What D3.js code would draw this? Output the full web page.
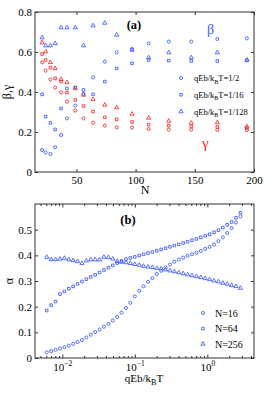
<!DOCTYPE html>
<html>
<head>
<meta charset="utf-8">
<script src="https://cdn.jsdelivr.net/npm/d3@7"></script>
<style>
  body { margin: 0; background: #fff; }
  text { font-family: "Liberation Serif", "Times New Roman", serif; fill: #000; }
</style>
</head>
<body>
<div id="chart"></div>
<script>
// ---- panel (a): beta and gamma vs N ----
const sizeN = [21, 24, 28, 32, 37, 42, 49, 56, 64, 74, 84, 97, 111, 128, 147, 169, 194];

const betaHalf    = [0.110, 0.098, 0.090, 0.124, 0.185, 0.268, 0.332, 0.390, 0.473, 0.552, 0.598, 0.615, 0.643, 0.652, 0.652, 0.665, 0.668];
const betaSixteen = [0.388, 0.277, 0.245, 0.213, 0.318, 0.418, 0.423, 0.410, 0.388, 0.452, 0.518, 0.543, 0.560, 0.557, 0.555, 0.555, 0.558];
const betaOne28   = [0.672, 0.632, 0.632, 0.643, 0.722, 0.722, 0.722, 0.632, 0.732, 0.745, 0.685, 0.610, 0.572, 0.597, 0.572, 0.597, 0.560];

const gammaHalf    = [0.548, 0.507, 0.463, 0.422, 0.398, 0.352, 0.307, 0.268, 0.247, 0.232, 0.223, 0.222, 0.215, 0.212, 0.212, 0.211, 0.210];
const gammaSixteen = [0.590, 0.560, 0.522, 0.468, 0.452, 0.397, 0.360, 0.330, 0.302, 0.273, 0.263, 0.250, 0.237, 0.232, 0.228, 0.225, 0.220];
const gammaOne28   = [0.647, 0.602, 0.548, 0.518, 0.463, 0.448, 0.418, 0.385, 0.363, 0.335, 0.322, 0.290, 0.270, 0.255, 0.245, 0.247, 0.227];

const legendA = ["1/2", "1/16", "1/128"];
const ticksNA = [50, 100, 150, 200];
const ticksYA = [0, 0.2, 0.4, 0.6, 0.8];

// ---- panel (b): alpha vs qEb/kBT ----
const fieldX = [0.00610, 0.00702, 0.00807, 0.00928, 0.01067, 0.01227, 0.01411, 0.01623, 0.01866, 0.02146,
                0.02468, 0.02838, 0.03264, 0.03753, 0.04316, 0.04964, 0.05708, 0.06565, 0.07549, 0.08682,
                0.09984, 0.1148, 0.1320, 0.1518, 0.1746, 0.2008, 0.2309, 0.2656, 0.3054, 0.3512,
                0.4039, 0.4645, 0.5341, 0.6143, 0.7064, 0.8124, 0.9342, 1.074, 1.235, 1.421,
                1.634, 1.879, 2.161, 2.485, 2.858];

const alphaN16 = [0.022, 0.027, 0.032, 0.037, 0.042, 0.048, 0.055, 0.062, 0.070, 0.080,
                  0.091, 0.101, 0.111, 0.122, 0.133, 0.146, 0.160, 0.177, 0.195, 0.215,
                  0.240, 0.262, 0.279, 0.297, 0.311, 0.327, 0.340, 0.353, 0.364, 0.375,
                  0.384, 0.391, 0.398, 0.404, 0.410, 0.417, 0.425, 0.433, 0.442, 0.455,
                  0.470, 0.487, 0.506, 0.528, 0.552];
const alphaN64 = [0.185, 0.206, 0.220, 0.249, 0.259, 0.270, 0.279, 0.289, 0.298, 0.307,
                  0.316, 0.324, 0.333, 0.343, 0.352, 0.361, 0.370, 0.378, 0.385, 0.390,
                  0.394, 0.399, 0.404, 0.409, 0.413, 0.418, 0.423, 0.428, 0.433, 0.438,
                  0.443, 0.448, 0.453, 0.459, 0.464, 0.470, 0.476, 0.482, 0.490, 0.498,
                  0.508, 0.519, 0.530, 0.546, 0.566];
const alphaN256 = [0.393, 0.384, 0.384, 0.386, 0.389, 0.383, 0.380, 0.376, 0.369, 0.379,
                   0.383, 0.383, 0.383, 0.393, 0.392, 0.386, 0.377, 0.374, 0.372, 0.369,
                   0.365, 0.362, 0.358, 0.355, 0.353, 0.350, 0.348, 0.344, 0.340, 0.337,
                   0.333, 0.329, 0.325, 0.321, 0.318, 0.314, 0.310, 0.306, 0.301, 0.297,
                   0.292, 0.288, 0.283, 0.279, 0.272];

const legendB = ["N=16", "N=64", "N=256"];
const ticksYB = [0, 0.1, 0.2, 0.3, 0.4, 0.5];
const majorXB = [0.01, 0.1, 1];
const minorXB = [0.005, 0.006, 0.007, 0.008, 0.009, 0.02, 0.03, 0.04, 0.05, 0.06, 0.07, 0.08, 0.09,
                 0.2, 0.3, 0.4, 0.5, 0.6, 0.7, 0.8, 0.9, 2, 3, 4];

const BLUE = "#3a58ff";
const RED = "#f02a2a";

const svg = d3.select("#chart").append("svg")
  .attr("width", 266).attr("height", 395);

// marker shapes (small, open, Matlab-like)
const shapes = {
  circle: d3.symbol(d3.symbolCircle, 7.5),
  square: d3.symbol(d3.symbolSquare, 6.5),
  triangle: d3.symbol(d3.symbolTriangle, 7.5)
};

function drawSeries(g, xs, ys, sx, sy, shape, color) {
  g.append("g").selectAll("path")
    .data(ys)
    .join("path")
    .attr("d", shapes[shape])
    .attr("transform", (d, i) => `translate(${sx(xs[i])},${sy(d)})`)
    .attr("fill", "none")
    .attr("stroke", color)
    .attr("stroke-width", 0.85);
}

function frame(g, L, R, T, B) {
  g.append("rect")
    .attr("x", L).attr("y", T).attr("width", R - L).attr("height", B - T)
    .attr("fill", "none").attr("stroke", "#333").attr("stroke-width", 1);
}

function styleAxis(sel) {
  sel.select(".domain").remove();
  sel.selectAll(".tick line").attr("stroke", "#333");
  sel.selectAll("text").attr("font-size", 11).attr("font-family", "Liberation Serif");
}

// ================= panel (a) =================
{
  const L = 35, R = 254, T = 12, B = 172;
  const x = d3.scaleLinear().domain([15, 200]).range([L, R]);
  const y = d3.scaleLinear().domain([0, 0.8]).range([B, T]);
  const g = svg.append("g");

  g.append("g").attr("transform", `translate(0,${B})`)
    .call(d3.axisBottom(x).tickValues(ticksNA).tickSize(-3).tickPadding(4).tickFormat(d3.format("d")))
    .call(styleAxis);
  g.append("g").attr("transform", `translate(0,${T})`)
    .call(d3.axisTop(x).tickValues(ticksNA).tickSize(-3).tickFormat(""))
    .call(styleAxis);
  g.append("g").attr("transform", `translate(${L},0)`)
    .call(d3.axisLeft(y).tickValues(ticksYA).tickSize(-3).tickPadding(3).tickFormat(d => d === 0 ? "0" : d3.format(".1f")(d)))
    .call(styleAxis);
  g.append("g").attr("transform", `translate(${R},0)`)
    .call(d3.axisRight(y).tickValues(ticksYA).tickSize(-3).tickFormat(""))
    .call(styleAxis);
  frame(g, L, R, T, B);

  drawSeries(g, sizeN, betaHalf, x, y, "circle", BLUE);
  drawSeries(g, sizeN, betaSixteen, x, y, "square", BLUE);
  drawSeries(g, sizeN, betaOne28, x, y, "triangle", BLUE);
  drawSeries(g, sizeN, gammaHalf, x, y, "circle", RED);
  drawSeries(g, sizeN, gammaSixteen, x, y, "square", RED);
  drawSeries(g, sizeN, gammaOne28, x, y, "triangle", RED);

  // legend
  const legShapes = ["circle", "square", "triangle"];
  legendA.forEach((lab, i) => {
    const ly = 78 + i * 16.8;
    g.append("path").attr("d", shapes[legShapes[i]])
      .attr("transform", `translate(181,${ly})`)
      .attr("fill", "none").attr("stroke", BLUE).attr("stroke-width", 0.85);
    const t = g.append("text").attr("x", 194).attr("y", ly + 3).attr("font-size", 8.5);
    t.append("tspan").text("qEb/k");
    t.append("tspan").attr("dy", 2.5).attr("font-size", 6).text("B");
    t.append("tspan").attr("dy", -2.5).text("T=" + lab);
  });

  g.append("text").attr("x", 134).attr("y", 29).attr("text-anchor", "middle")
    .attr("font-size", 12.5).attr("font-weight", "bold").text("(a)");
  g.append("text").attr("x", 207).attr("y", 34).attr("font-size", 14)
    .style("fill", BLUE).text("β");
  g.append("text").attr("x", 202).attr("y", 148).attr("font-size", 15)
    .style("fill", RED).text("γ");

  g.append("text").attr("x", 145).attr("y", 194).attr("text-anchor", "middle")
    .attr("font-size", 12).text("N");
  g.append("text").attr("transform", "translate(11,92) rotate(-90)")
    .attr("text-anchor", "middle").attr("font-size", 12).text("β,γ");
}

// ================= panel (b) =================
{
  const L = 35, R = 254, T = 204, B = 358;
  const x = d3.scaleLog().domain([0.0042, 4.4]).range([L, R]);
  const y = d3.scaleLinear().domain([0, 0.6]).range([B, T]);
  const g = svg.append("g");

  const bottom = g.append("g").attr("transform", `translate(0,${B})`)
    .call(d3.axisBottom(x).tickValues(majorXB).tickSize(-3.5).tickPadding(5).tickFormat(""))
    .call(styleAxis);
  bottom.selectAll(".tick text").each(function (d) {
    const t = d3.select(this).attr("dy", "0.71em");
    t.append("tspan").text("10");
    t.append("tspan").attr("dy", -5).attr("font-size", 7.5)
      .text(d === 1 ? "0" : "\u2212" + Math.round(-Math.log10(d)));
  });
  g.append("g").attr("transform", `translate(0,${B})`)
    .call(d3.axisBottom(x).tickValues(minorXB).tickSize(-2).tickFormat(""))
    .call(styleAxis);
  g.append("g").attr("transform", `translate(0,${T})`)
    .call(d3.axisTop(x).tickValues(majorXB).tickSize(-3.5).tickFormat(""))
    .call(styleAxis);
  g.append("g").attr("transform", `translate(0,${T})`)
    .call(d3.axisTop(x).tickValues(minorXB).tickSize(-2).tickFormat(""))
    .call(styleAxis);
  g.append("g").attr("transform", `translate(${L},0)`)
    .call(d3.axisLeft(y).tickValues(ticksYB).tickSize(-3).tickPadding(3).tickFormat(d => d === 0 ? "0" : d3.format(".1f")(d)))
    .call(styleAxis);
  g.append("g").attr("transform", `translate(${R},0)`)
    .call(d3.axisRight(y).tickValues(ticksYB).tickSize(-3).tickFormat(""))
    .call(styleAxis);
  frame(g, L, R, T, B);

  drawSeries(g, fieldX, alphaN16, x, y, "circle", BLUE);
  drawSeries(g, fieldX, alphaN64, x, y, "square", BLUE);
  drawSeries(g, fieldX, alphaN256, x, y, "triangle", BLUE);

  const legShapes = ["circle", "square", "triangle"];
  legendB.forEach((lab, i) => {
    const ly = 313 + i * 15.5;
    g.append("path").attr("d", shapes[legShapes[i]])
      .attr("transform", `translate(203,${ly})`)
      .attr("fill", "none").attr("stroke", BLUE).attr("stroke-width", 0.85);
    g.append("text").attr("x", 215).attr("y", ly + 3.5).attr("font-size", 10).text(lab);
  });

  g.append("text").attr("x", 128).attr("y", 224).attr("text-anchor", "middle")
    .attr("font-size", 12.5).attr("font-weight", "bold").text("(b)");

  const xl = g.append("text").attr("x", 144).attr("y", 382).attr("text-anchor", "middle").attr("font-size", 11);
  xl.append("tspan").text("qEb/k");
  xl.append("tspan").attr("dy", 3).attr("font-size", 8).text("B");
  xl.append("tspan").attr("dy", -3).text("T");

  g.append("text").attr("transform", "translate(13,281) rotate(-90)")
    .attr("text-anchor", "middle").attr("font-size", 12).text("α");
}
</script>
</body>
</html>
